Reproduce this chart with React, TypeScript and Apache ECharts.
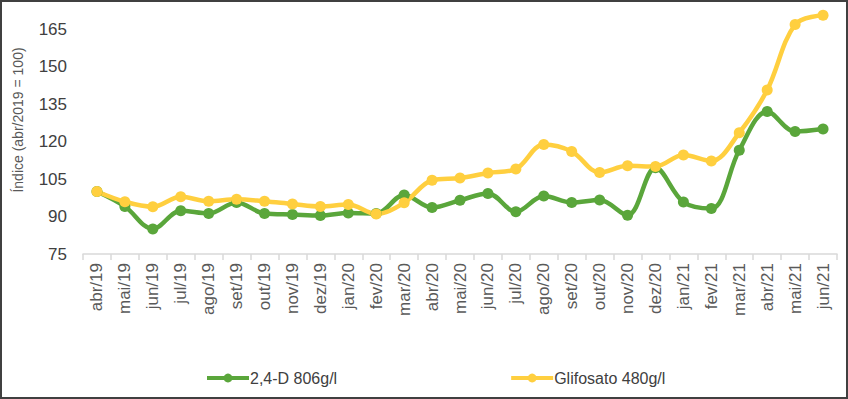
import React, { useEffect, useRef } from "react";
import * as echarts from "echarts";

const categories = [
  "abr/19", "mai/19", "jun/19", "jul/19", "ago/19", "set/19", "out/19", "nov/19", "dez/19",
  "jan/20", "fev/20", "mar/20", "abr/20", "mai/20", "jun/20", "jul/20", "ago/20", "set/20",
  "out/20", "nov/20", "dez/20", "jan/21", "fev/21", "mar/21", "abr/21", "mai/21", "jun/21",
];

const d24Values = [
  100, 94, 85, 92.3, 91.2, 95.6, 91.2, 90.8, 90.4,
  91.4, 91.2, 98.6, 93.6, 96.5, 99.2, 91.9, 98.2, 95.6,
  96.6, 90.5, 109.5, 95.8, 93.2, 116.5, 132, 124, 125,
];

const glifValues = [
  100, 95.9, 93.9, 97.9, 96.1, 96.9, 96.1, 95, 94,
  94.8, 91, 95.5, 104.5, 105.4, 107.4, 109, 118.8, 116,
  107.6, 110.3, 110, 114.6, 112.2, 123.5, 140.6, 166.8, 170.5,
];

const seriesNames = ["2,4-D 806g/l", "Glifosato 480g/l"];
const yTicks = { min: 75, max: 165, interval: 15 };
const yAxisTitle = "Índice (abr/2019 = 100)";

const GREEN = "#5AA63B";
const YELLOW = "#FFCF3F";

export default function App() {
  const ref = useRef<HTMLDivElement>(null);

  useEffect(() => {
    if (!ref.current) return;
    const chart = echarts.init(ref.current, undefined, { renderer: "svg" });
    const font = "Liberation Sans, Arial, sans-serif";
    chart.setOption({
      animation: false,
      backgroundColor: "#ffffff",
      grid: { left: 83, right: 11, top: 29, bottom: 145, containLabel: false },
      xAxis: {
        type: "category",
        data: categories,
        boundaryGap: true,
        axisLine: { show: true, lineStyle: { color: "#D9D9D9", width: 1.5 } },
        axisTick: { show: true, alignWithLabel: false, length: 6, lineStyle: { color: "#D9D9D9", width: 1.5 } },
        axisLabel: {
          rotate: 90,
          interval: 0,
          color: "#595959",
          fontSize: 17,
          fontFamily: font,
          margin: 9,
        },
        splitLine: { show: false },
      },
      yAxis: {
        type: "value",
        min: yTicks.min,
        max: yTicks.max,
        interval: yTicks.interval,
        axisLine: { show: false },
        axisTick: { show: false },
        splitLine: { show: false },
        axisLabel: { color: "#404040", fontSize: 17, fontFamily: font, margin: 16 },
      },
      legend: {
        bottom: 8,
        left: 200,
        itemGap: 172,
        itemWidth: 42,
        itemHeight: 11,
        lineStyle: { width: 4 },
        textStyle: { color: "#404040", fontSize: 16, fontFamily: font, padding: [0, 0, 0, -4] },
        data: [seriesNames[0], seriesNames[1]],
      },
      graphic: [
        {
          type: "text",
          x: 18,
          y: 120,
          rotation: Math.PI / 2,
          style: {
            text: yAxisTitle,
            fill: "#595959",
            fontSize: 14,
            fontFamily: font,
            align: "center",
            verticalAlign: "middle",
          },
        },
        {
          type: "rect",
          shape: { x: 1, y: 1, width: 846, height: 397 },
          style: { fill: "none", stroke: "#404040", lineWidth: 2 },
          z: 100,
        },
      ],
      series: [
        {
          name: seriesNames[0],
          type: "line",
          data: d24Values,
          smooth: 0.35,
          clip: false,
          symbol: "circle",
          symbolSize: 11,
          lineStyle: { color: GREEN, width: 4.5 },
          itemStyle: { color: GREEN },
        },
        {
          name: seriesNames[1],
          type: "line",
          data: glifValues,
          smooth: 0.35,
          clip: false,
          symbol: "circle",
          symbolSize: 11,
          lineStyle: { color: YELLOW, width: 4.5 },
          itemStyle: { color: YELLOW },
        },
      ],
    });
    return () => chart.dispose();
  }, []);

  return <div ref={ref} style={{ width: 848, height: 399, position: "absolute", left: 0, top: 0 }} />;
}
